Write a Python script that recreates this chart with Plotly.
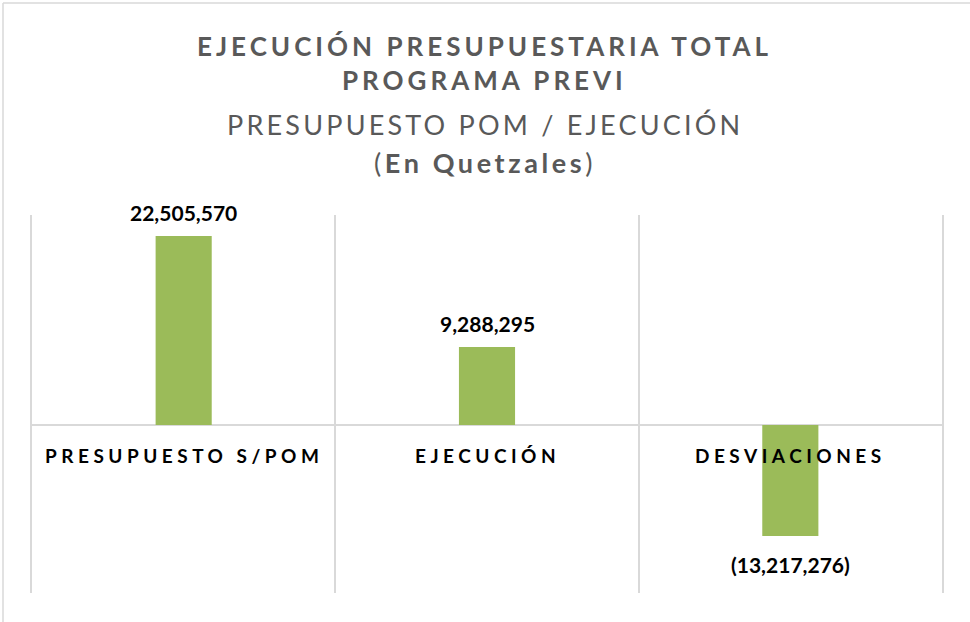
import plotly.graph_objects as go

categories = ["PRESUPUESTO S/POM", "EJECUCIÓN", "DESVIACIONES"]
values = [22505570, 9288295, -13217276]

title_lines = [
    "EJECUCIÓN PRESUPUESTARIA TOTAL",
    "PROGRAMA PREVI",
    "PRESUPUESTO POM / EJECUCIÓN",
    "En Quetzales",
]

BAR = "#9BBB59"
GRID = "#D9D9D9"
TITLE_C = "#595959"
FONT = "Lato"


def fmt(v):
    s = f"{abs(v):,}"
    return f"({s})" if v < 0 else s


def ls(text, px):
    return f'<span style="letter-spacing:{px}px">{text}</span>'


fig = go.Figure()
fig.add_trace(go.Bar(
    x=categories, y=values, width=0.185,
    marker=dict(color=BAR, line=dict(width=0)),
    hoverinfo="skip",
))

# data labels
for c, v in zip(categories, values):
    fig.add_annotation(
        x=c, y=v, text=f"<b>{fmt(v)}</b>", showarrow=False,
        yanchor="middle", yshift=23 if v >= 0 else -28,
        font=dict(family=FONT, size=21, color="#000000"),
    )

# category labels
for c in categories:
    fig.add_annotation(
        x=c, y=0, text=f"<b>{ls(c, 4.5)}</b>", showarrow=False,
        yanchor="middle", yshift=-30,
        font=dict(family=FONT, size=19, color="#000000"),
    )


def py(pix):
    return (593 - pix) / 378


fig.add_annotation(xref="paper", yref="paper", x=0.4978, y=py(46), showarrow=False,
                   text=f"<b>{ls(title_lines[0], 4)}</b>", yanchor="middle",
                   font=dict(family=FONT, size=26, color=TITLE_C))
fig.add_annotation(xref="paper", yref="paper", x=0.4978, y=py(80), showarrow=False,
                   text=f"<b>{ls(title_lines[1], 4)}</b>", yanchor="middle",
                   font=dict(family=FONT, size=26, color=TITLE_C))
fig.add_annotation(xref="paper", yref="paper", x=0.4978, y=py(124), showarrow=False,
                   text=ls(title_lines[2], 3.2), yanchor="middle",
                   font=dict(family=FONT, size=27, color=TITLE_C))
fig.add_annotation(xref="paper", yref="paper", x=0.4978, y=py(162), showarrow=False,
                   text=ls(f"(<b>{title_lines[3]}</b>)", 3.6), yanchor="middle",
                   font=dict(family=FONT, size=27, color=TITLE_C))

# outer frame (left and top edges)
fig.add_shape(type="line", xref="paper", yref="paper",
              x0=(3 - 32) / 910, x1=(3 - 32) / 910, y0=py(622), y1=py(3),
              line=dict(color=GRID, width=1.5))
fig.add_shape(type="line", xref="paper", yref="paper",
              x0=(3 - 32) / 910, x1=(970 - 32) / 910, y0=py(3), y1=py(3),
              line=dict(color=GRID, width=1.5))

fig.update_layout(
    width=970, height=622,
    margin=dict(l=32, r=28, t=215, b=29),
    paper_bgcolor="white", plot_bgcolor="white",
    showlegend=False,
    font=dict(family=FONT),
    xaxis=dict(
        type="category", range=[-0.5, 2.5],
        tickson="boundaries", showgrid=True, gridcolor=GRID, gridwidth=1.5,
        showticklabels=False, ticks="", showline=False, zeroline=False,
        fixedrange=True,
    ),
    yaxis=dict(
        range=[-20000000, 25000000], showgrid=False, showticklabels=False,
        zeroline=True, zerolinecolor=GRID, zerolinewidth=2,
        showline=True, mirror=True, linecolor=GRID, linewidth=1.5,
        ticks="", fixedrange=True,
    ),
)

fig.write_html("out.html", config={"displayModeBar": False},
               post_script="document.body.style.margin='0';")
